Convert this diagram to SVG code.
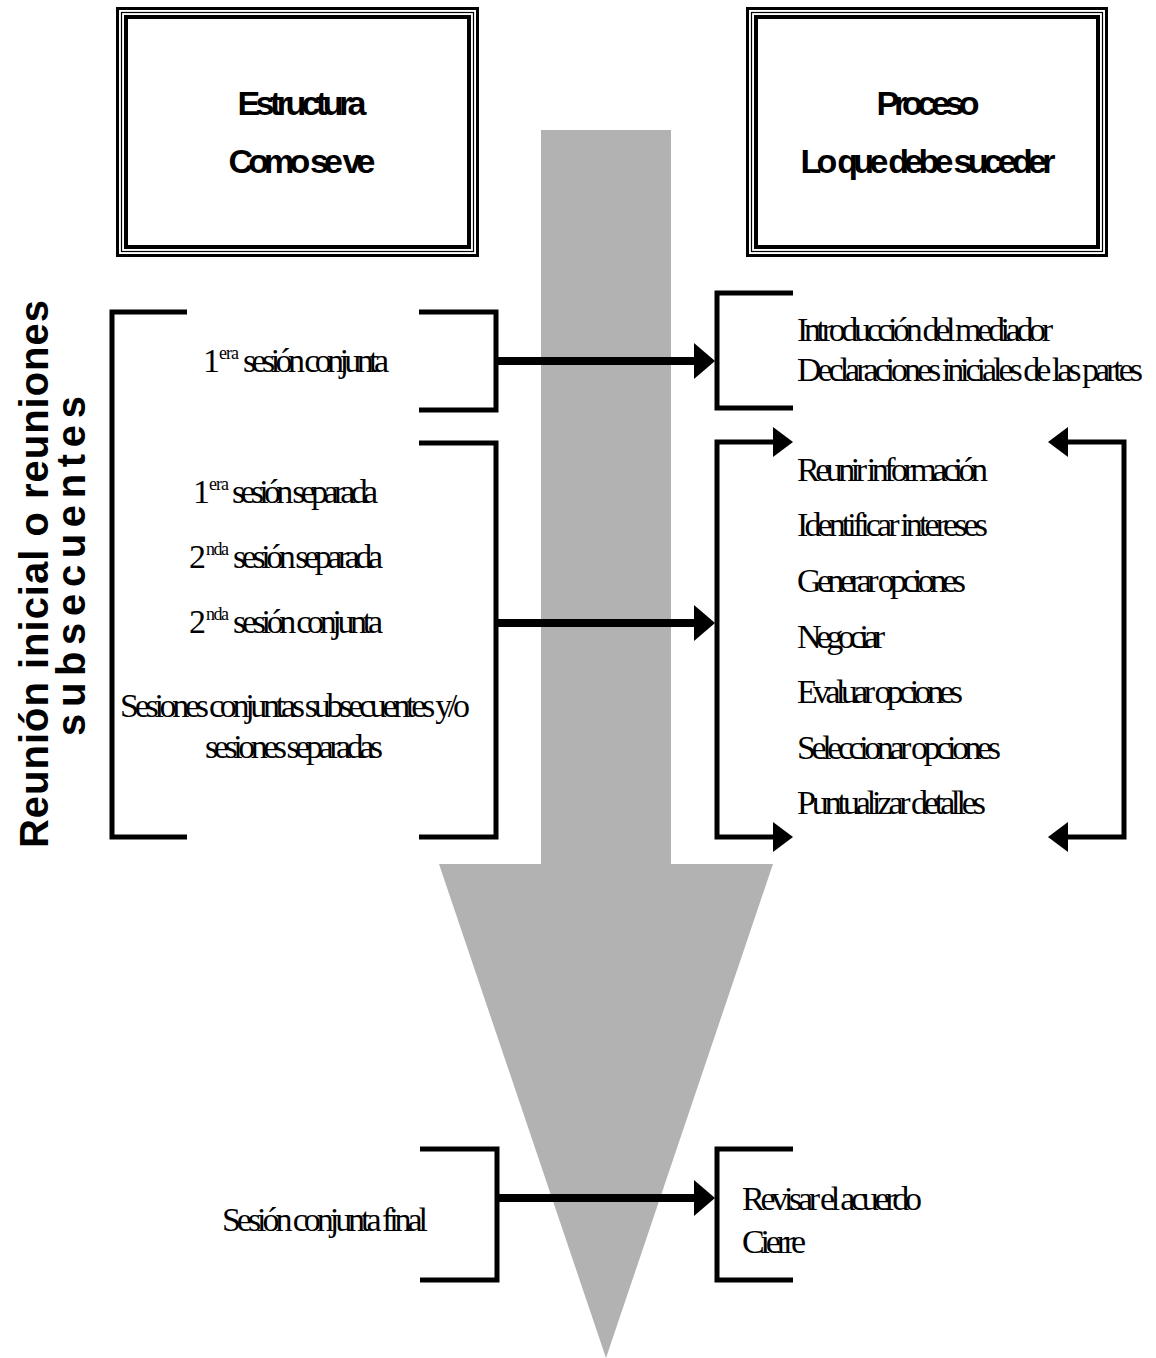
<svg xmlns="http://www.w3.org/2000/svg" width="1156" height="1358" viewBox="0 0 1156 1358">
  <style>
    .frame { fill: none; stroke: #000; }
    .brk { fill: none; stroke: #000; stroke-width: 5; stroke-linejoin: miter; }
    .flow { fill: none; stroke: #000; stroke-width: 8; }
    .loop { fill: none; stroke: #000; stroke-width: 5; }
    .head { font-family: "Liberation Sans", Arial, sans-serif; font-weight: bold; font-size: 34px; fill: #000; }
    .side { font-family: "Liberation Sans", Arial, sans-serif; font-weight: bold; font-size: 40px; fill: #000; }
    .t { font-family: "Liberation Serif", "Times New Roman", serif; font-size: 34px; fill: #000; }
    .sup { font-family: "Liberation Serif", "Times New Roman", serif; font-size: 18px; fill: #000; }
  </style>
  <defs>
    <marker id="arrowBig" markerUnits="userSpaceOnUse" markerWidth="22" markerHeight="36" refX="1" refY="18" orient="auto">
      <path d="M0,0 L21,18 L0,36 Z" fill="#000"/>
    </marker>
    <marker id="arrowSmall" markerUnits="userSpaceOnUse" markerWidth="21" markerHeight="30" refX="1" refY="15" orient="auto-start-reverse">
      <path d="M0,0 L20,15 L0,30 Z" fill="#000"/>
    </marker>
  </defs>

  <rect width="1156" height="1358" fill="#fff"/>

  <!-- wide grey process arrow running down the page -->
  <g id="process-arrow">
    <polygon points="541,130 671,130 671,864 773,864 606,1358 439,864 541,864" fill="#b2b2b2"/>
  </g>

  <!-- header boxes with thick-thin-thick frame -->
  <g id="box-estructura">
    <rect class="frame" x="117.5" y="8.5" width="360" height="247" stroke-width="3"/>
    <rect class="frame" x="121.5" y="12.5" width="352" height="239" stroke-width="1.2"/>
    <rect class="frame" x="126" y="17" width="343" height="230" stroke-width="4"/>
    <text class="head" x="302" y="115" text-anchor="middle" textLength="129" lengthAdjust="spacing">Estructura</text>
    <text class="head" x="302" y="173" text-anchor="middle" textLength="147" lengthAdjust="spacing">Como se ve</text>
  </g>
  <g id="box-proceso">
    <rect class="frame" x="747.5" y="8.5" width="359" height="247" stroke-width="3"/>
    <rect class="frame" x="751.5" y="12.5" width="351" height="239" stroke-width="1.2"/>
    <rect class="frame" x="756" y="17" width="342" height="230" stroke-width="4"/>
    <text class="head" x="928" y="115" text-anchor="middle" textLength="103" lengthAdjust="spacing">Proceso</text>
    <text class="head" x="928" y="173" text-anchor="middle" textLength="255" lengthAdjust="spacing">Lo que debe suceder</text>
  </g>

  <!-- vertical side label -->
  <g id="side-label">
    <text class="side" transform="translate(48,574) rotate(-90)" text-anchor="middle" textLength="548" lengthAdjust="spacing">Reunión inicial o reuniones</text>
    <text class="side" transform="translate(85,566) rotate(-90)" text-anchor="middle" textLength="340" lengthAdjust="spacing">subsecuentes</text>
  </g>

  <!-- structure column -->
  <g id="structure-outer-bracket">
    <path class="brk" d="M187,312 H112 V837 H187"/>
  </g>
  <g id="session-joint-1">
    <path class="brk" d="M419,312 H496 V410 H419"/>
    <text class="t" x="203" y="372">1</text>
    <text class="sup" x="219" y="359" textLength="20" lengthAdjust="spacing">era</text>
    <text class="t" x="243" y="372" textLength="146" lengthAdjust="spacing">sesión conjunta</text>
  </g>
  <g id="sessions-middle">
    <path class="brk" d="M419,443 H496 V837 H419"/>
    <text class="t" x="193" y="503">1</text>
    <text class="sup" x="209" y="490" textLength="20" lengthAdjust="spacing">era</text>
    <text class="t" x="232" y="503" textLength="146" lengthAdjust="spacing">sesión separada</text>
    <text class="t" x="189" y="568">2</text>
    <text class="sup" x="206" y="555" textLength="23" lengthAdjust="spacing">nda</text>
    <text class="t" x="233" y="568" textLength="150" lengthAdjust="spacing">sesión separada</text>
    <text class="t" x="189" y="633">2</text>
    <text class="sup" x="206" y="620" textLength="23" lengthAdjust="spacing">nda</text>
    <text class="t" x="233" y="633" textLength="150" lengthAdjust="spacing">sesión conjunta</text>
    <text class="t" x="120" y="717" textLength="350" lengthAdjust="spacing">Sesiones conjuntas subsecuentes y/o</text>
    <text class="t" x="205" y="758" textLength="178" lengthAdjust="spacing">sesiones separadas</text>
  </g>
  <g id="session-final">
    <path class="brk" d="M420,1149 H497 V1280 H420"/>
    <text class="t" x="222" y="1231" textLength="206" lengthAdjust="spacing">Sesión conjunta final</text>
  </g>

  <!-- process column -->
  <g id="process-opening">
    <path class="brk" d="M793,293 H717 V408 H793"/>
    <text class="t" x="797" y="341" textLength="256" lengthAdjust="spacing">Introducción del mediador</text>
    <text class="t" x="797" y="381" textLength="346" lengthAdjust="spacing">Declaraciones iniciales de las partes</text>
  </g>
  <g id="process-cycle">
    <text class="t" x="797" y="481" textLength="191" lengthAdjust="spacing">Reunir información</text>
    <text class="t" x="797" y="536" textLength="191" lengthAdjust="spacing">Identificar intereses</text>
    <text class="t" x="797" y="592" textLength="169" lengthAdjust="spacing">Generar opciones</text>
    <text class="t" x="797" y="648" textLength="88" lengthAdjust="spacing">Negociar</text>
    <text class="t" x="797" y="703" textLength="166" lengthAdjust="spacing">Evaluar opciones</text>
    <text class="t" x="797" y="759" textLength="204" lengthAdjust="spacing">Seleccionar opciones</text>
    <text class="t" x="797" y="814" textLength="189" lengthAdjust="spacing">Puntualizar detalles</text>
  </g>
  <g id="process-closing">
    <path class="brk" d="M793,1149 H717 V1280 H793"/>
    <text class="t" x="742" y="1210" textLength="180" lengthAdjust="spacing">Revisar el acuerdo</text>
    <text class="t" x="742" y="1253" textLength="64" lengthAdjust="spacing">Cierre</text>
  </g>

  <!-- connectors -->
  <g id="connectors">
    <path class="flow" d="M498,361 H695" marker-end="url(#arrowBig)"/>
    <path class="flow" d="M498,623 H695" marker-end="url(#arrowBig)"/>
    <path class="flow" d="M499,1198 H695" marker-end="url(#arrowBig)"/>
    <path class="loop" d="M774,442 H717 V837 H774" marker-start="url(#arrowSmall)" marker-end="url(#arrowSmall)"/>
    <path class="loop" d="M1067,442 H1124 V837 H1067" marker-start="url(#arrowSmall)" marker-end="url(#arrowSmall)"/>
  </g>
</svg>
